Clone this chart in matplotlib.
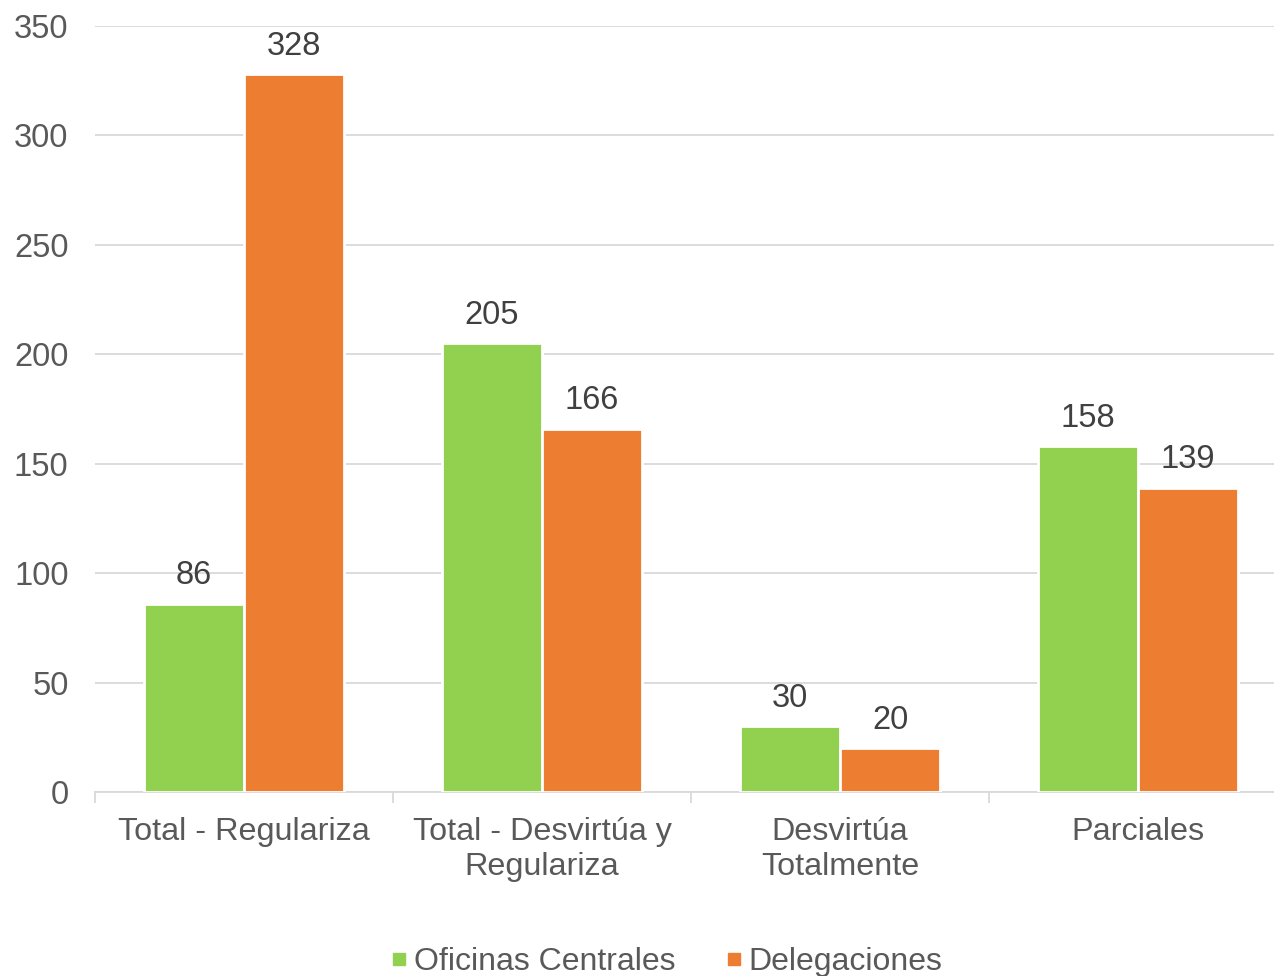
import numpy as np
import matplotlib.pyplot as plt
from matplotlib.lines import Line2D

# Data
categories = ['Total - Regulariza', 'Total - Desvirtúa y\nRegulariza', 'Desvirtúa\nTotalmente', 'Parciales']
oficinas = [86, 205, 30, 158]
delegaciones = [328, 166, 20, 139]

green = '#92D050'
orange = '#ED7D31'
txt = '#595959'

plt.rcParams['font.family'] = ['Liberation Sans', 'DejaVu Sans']

fig = plt.figure(figsize=(12.74, 9.76), dpi=100)
ax = fig.add_axes([95/1274, 184/976, 1192/1274, 766/976])

x = np.arange(len(categories))
w = 0.335
off = 0.168
b1 = ax.bar(x - off, oficinas, w, color=green, edgecolor='white', linewidth=2, zorder=3)
b2 = ax.bar(x + off, delegaciones, w, color=orange, edgecolor='white', linewidth=2, zorder=3)

# value labels
for bars, vals in ((b1, oficinas), (b2, delegaciones)):
    for b, v in zip(bars, vals):
        ax.annotate(str(v), (b.get_x() + b.get_width()/2, v), xytext=(0, 9),
                    textcoords='offset points', ha='center', va='bottom',
                    fontsize=23.5, color='#404040', zorder=4)

ax.set_xlim(-0.5, len(categories) - 0.5)
ax.set_ylim(0, 350)
ax.set_yticks(range(0, 351, 50))
ax.yaxis.grid(True, color='#D9D9D9', linewidth=1.3)
ax.set_axisbelow(True)

ax.set_xticks(x)
ax.set_xticklabels(categories, fontsize=23.3, color=txt, linespacing=1.2)
ax.set_xticks(np.arange(-0.5, len(categories), 1), minor=True)
ax.tick_params(axis='x', which='major', length=0, pad=18)
ax.tick_params(axis='x', which='minor', length=8, width=1.3, color='#D9D9D9')
ax.tick_params(axis='y', length=0, labelsize=23.5, labelcolor=txt, pad=19)

for s in ['top', 'right', 'left']:
    ax.spines[s].set_visible(False)
ax.spines['bottom'].set_color('#D9D9D9')
ax.spines['bottom'].set_linewidth(1.3)

handles = [Line2D([], [], marker='s', linestyle='none', color=green, markersize=9),
           Line2D([], [], marker='s', linestyle='none', color=orange, markersize=9)]
fig.legend(handles, ['Oficinas Centrales', 'Delegaciones'], loc='center',
           bbox_to_anchor=(667/1274, 1 - 962/976), ncol=2, frameon=False,
           fontsize=23, labelcolor=txt, handlelength=0.5, handletextpad=0.2,
           columnspacing=1.6)

fig.savefig('out.png', dpi=100, facecolor='white')
